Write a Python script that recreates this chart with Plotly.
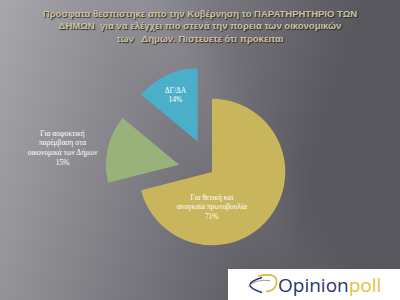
import base64
import struct
import zlib
import numpy as np
import plotly.graph_objects as go

labels = ["Για θετική και<br>αναγκαία πρωτοβουλία",
          "Για ασφυκτική<br>παρέμβαση στα<br>οικονομικά των Δήμων",
          "ΔΓ/ΔΑ"]
values = [71, 15, 14]
colors = ["#C9B55B", "#99B17A", "#4CAFCA"]
pulls = [0, 0.46, 0.46]
title_lines = ["Προσφατα θεσπιστηκε απο την Κυβέρνηση το ΠΑΡΑΤΗΡΗΤΗΡΙΟ ΤΩΝ",
               "ΔΗΜΩΝ  για να ελέγχει πιο στενά την πορεια των οικονομικών",
               "των   Δημων. Πιστευετε ότι προκειται"]

W, H = 400, 300
CX, CY, HALF = 212, 172, 107


def background_png(w, h):
    yy, xx = np.mgrid[0:h, 0:w].astype(float)
    t = np.clip((xx + 0.3 * yy) / 490 / 0.75, 0, 1)
    c0 = np.array([168, 167, 172], float)
    c1 = np.array([88, 87, 94], float)
    img = c0[None, None, :] * (1 - t[..., None]) + c1[None, None, :] * t[..., None]
    d = (xx - 0.55 * yy) - 150
    img = img + (np.exp(-(d / 40.0) ** 2) * 8)[..., None]
    img = np.clip(img, 0, 255).astype(np.uint8)
    raw = b"".join(b"\x00" + img[r].tobytes() for r in range(h))

    def chunk(tag, data):
        c = struct.pack(">I", len(data)) + tag + data
        return c + struct.pack(">I", zlib.crc32(tag + data) & 0xFFFFFFFF)

    png = b"\x89PNG\r\n\x1a\n"
    png += chunk(b"IHDR", struct.pack(">IIBBBBB", w, h, 8, 2, 0, 0, 0))
    png += chunk(b"IDAT", zlib.compress(raw, 9))
    png += chunk(b"IEND", b"")
    return "data:image/png;base64," + base64.b64encode(png).decode()


bg_src = background_png(W, H)

fig = go.Figure()
fig.add_trace(go.Pie(
    labels=labels, values=values, sort=False, direction="clockwise", rotation=0,
    pull=pulls,
    marker=dict(colors=colors, line=dict(width=0)),
    texttemplate="%{label}<br>%{percent:.0%}",
    textposition=["inside", "outside", "inside"],
    insidetextorientation="horizontal",
    textfont=dict(family="Liberation Serif", size=7.5, color="white"),
    outsidetextfont=dict(family="Liberation Serif", size=7.5, color="white"),
    showlegend=False,
    hoverinfo="skip",
    domain=dict(x=[(CX - HALF) / W, (CX + HALF) / W],
                y=[1 - (CY + HALF) / H, 1 - (CY - HALF) / H]),
))

fig.update_layout(
    width=W, height=H,
    margin=dict(l=0, r=0, t=0, b=0, autoexpand=False),
    paper_bgcolor="#7a797f",
    plot_bgcolor="rgba(0,0,0,0)",
    showlegend=False,
    images=[dict(source=bg_src, xref="paper", yref="paper", x=0, y=1,
                 sizex=1, sizey=1, sizing="stretch", layer="below",
                 xanchor="left", yanchor="top")],
    title=dict(
        text="<br>".join("<b>" + t + "</b>" for t in title_lines),
        x=0.5, xanchor="center", y=1 - 17 / H, yanchor="top",
        font=dict(family="Liberation Sans", size=9.5, color="#cbc2a2",
                  shadow="1px 1px 1px #2a2a2a"),
    ),
    shapes=[
        dict(type="rect", xref="paper", yref="paper",
             x0=228 / W, x1=1, y0=0, y1=1 - 269 / H,
             fillcolor="white", line=dict(width=0), layer="above"),
        dict(type="path", xref="paper", yref="paper",
             path="M 0.655,0.075 Q 0.595,0.05 0.655,0.025",
             line=dict(color="#2c3170", width=1.6), layer="above"),
        dict(type="path", xref="paper", yref="paper",
             path="M 0.645,0.08 Q 0.70,0.095 0.69,0.05 Q 0.685,0.03 0.665,0.028",
             line=dict(color="#d9b93a", width=1.6), layer="above"),
        dict(type="path", xref="paper", yref="paper",
             path="M 0.62,0.045 Q 0.64,0.07 0.675,0.065",
             line=dict(color="#9a9aa8", width=1), layer="above"),
    ],
    annotations=[
        dict(xref="paper", yref="paper", x=0.69, y=1 - 285 / H,
             xanchor="left", yanchor="middle", showarrow=False,
             text="<span style='color:#2c3170'>Opinion</span><span style='color:#e0c23c'>poll</span>",
             font=dict(family="Open Sans", size=19)),
    ],
)

fig.write_html("out.html")
